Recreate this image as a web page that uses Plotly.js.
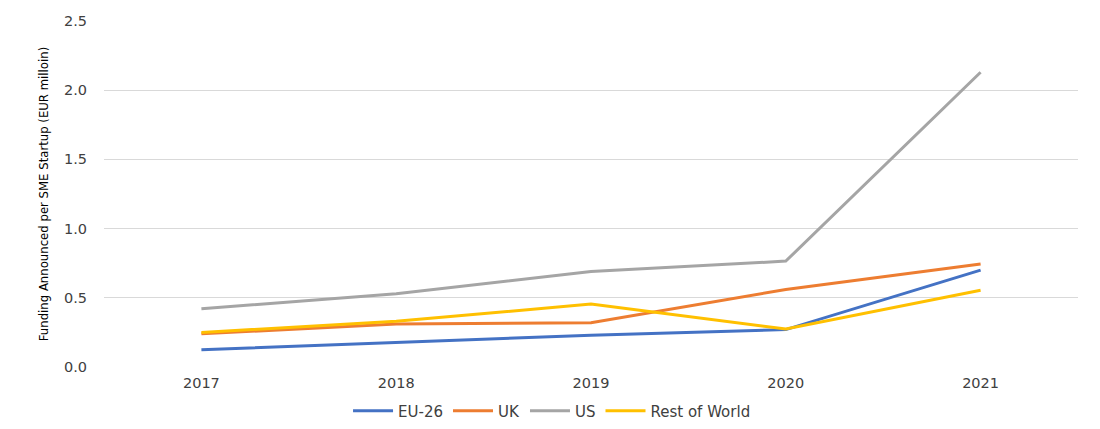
<!DOCTYPE html>
<html>
<head>
<meta charset="utf-8">
<script src="https://cdn.plot.ly/plotly-3.0.1.min.js"></script>
<style>html,body{margin:0;padding:0;background:#fff;}#chart{width:1100px;height:429px;}</style>
</head>
<body>
<div id="chart"></div>
<script>
const years = ['2017', '2018', '2019', '2020', '2021'];
const eu26 = [0.125, 0.18, 0.23, 0.27, 0.70];
const uk = [0.24, 0.31, 0.32, 0.56, 0.745];
const us = [0.42, 0.53, 0.69, 0.765, 2.13];
const restOfWorld = [0.25, 0.33, 0.455, 0.275, 0.555];
const yTicks = [0, 0.5, 1.0, 1.5, 2.0, 2.5];
const yTickLabels = ['0.0', '0.5', '1.0', '1.5', '2.0', '2.5'];

const mk = (name, y, color) => ({
  type: 'scatter', mode: 'lines', name: name, x: years, y: y,
  line: {color: color, width: 3}
});

const data = [
  mk('EU-26', eu26, '#4472C4'),
  mk('UK', uk, '#ED7D31'),
  mk('US', us, '#A5A5A5'),
  mk('Rest of World', restOfWorld, '#FFC000')
];

const tickFont = {family: 'DejaVu Sans', size: 14.5, color: '#404040'};
const legendFont = {family: 'DejaVu Sans', size: 15, color: '#404040'};

const layout = {
  width: 1100, height: 429,
  margin: {l: 104, r: 22, t: 21, b: 62, autoexpand: false},
  paper_bgcolor: '#fff', plot_bgcolor: '#fff',
  font: tickFont,
  showlegend: true,
  legend: {orientation: 'h', x: 0.46, xanchor: 'center', y: -0.127, yanchor: 'middle',
    font: legendFont, itemwidth: 40},
  xaxis: {type: 'category', range: [-0.5, 4.5], showgrid: false, zeroline: false,
    showline: false, ticks: '', ticklabelstandoff: 5, tickfont: tickFont},
  yaxis: {range: [0, 2.5], tickvals: yTicks, ticktext: yTickLabels,
    showgrid: true, gridcolor: '#d9d9d9', gridwidth: 1, zeroline: false, showline: false,
    ticks: '', ticklabelstandoff: 16,
    tickfont: tickFont,
    title: {text: 'Funding Announced per SME Startup (EUR milloin)', standoff: 12,
      font: {family: 'DejaVu Sans Condensed, Liberation Sans', size: 13, color: '#000'}}}
};

Plotly.newPlot('chart', data, layout, {displayModeBar: false, staticPlot: true});
</script>
</body>
</html>
